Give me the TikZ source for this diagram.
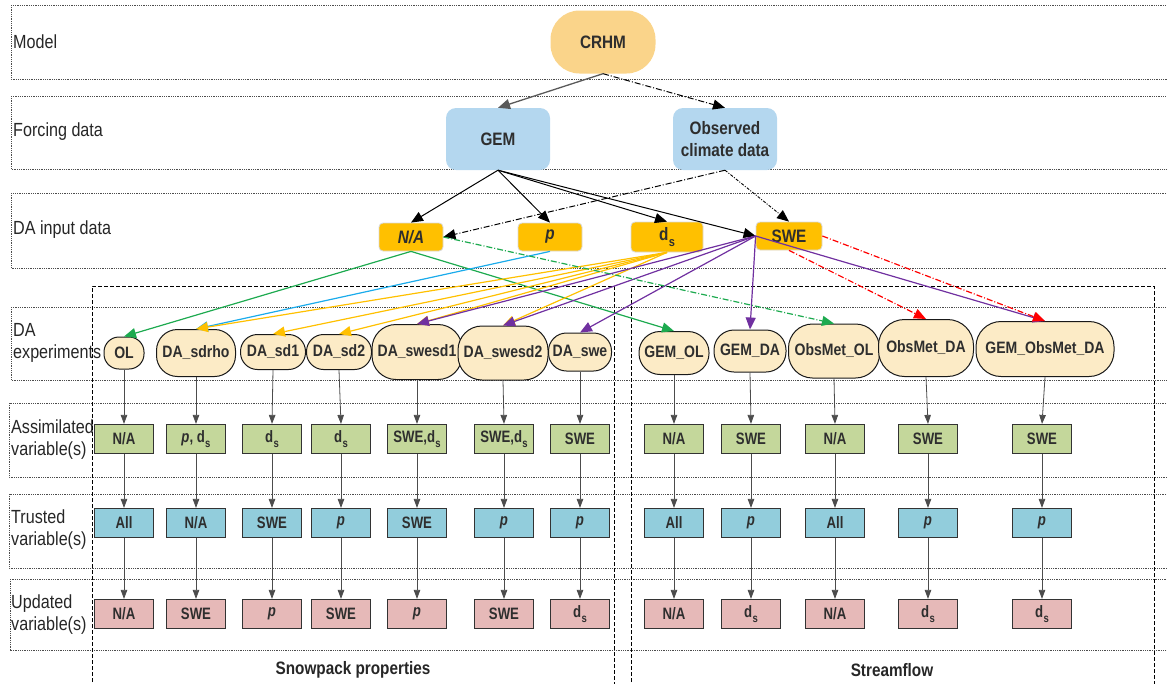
\documentclass[tikz,border=0pt]{standalone}
\usepackage{fontspec}
\setmainfont{Liberation Sans}[FakeStretch=0.85]
\newfontfamily\boxfont{Liberation Sans}[FakeStretch=0.8]
\usetikzlibrary{arrows.meta}
\definecolor{crhmfill}{HTML}{FAD48A}
\definecolor{forcfill}{HTML}{B4D7EF}
\definecolor{inpfill}{HTML}{FFC000}
\definecolor{expfill}{HTML}{FCEBC6}
\definecolor{asmfill}{HTML}{C4D79B}
\definecolor{trsfill}{HTML}{92CDDC}
\definecolor{updfill}{HTML}{E6B9B8}
\definecolor{txt}{HTML}{2E2E2E}
\definecolor{egreen}{HTML}{1DAA4F}
\definecolor{eblue}{HTML}{1AABEB}
\definecolor{eorange}{HTML}{FFC000}
\definecolor{epurple}{HTML}{7030A0}
\definecolor{ered}{HTML}{FF0000}
% snow depth symbol d with subscript s
\newcommand\dsv{d\kern0.3pt\raisebox{-0.6ex}{\scalebox{0.72}{s}}}

\begin{document}
\begin{tikzpicture}[x=1pt,y=-1pt,
  band/.style={draw=black!70, line width=0.9pt, dash pattern=on 0.9pt off 0.9pt},
  grp/.style={draw=black, line width=0.9pt, dash pattern=on 4pt off 2pt},
  rowlab/.style={anchor=west, inner sep=0pt, align=left, text=black!85,
    font=\fontsize{19}{22}\selectfont},
  grplab/.style={inner sep=0pt, text=black!85, font=\bfseries\fontsize{18}{21}\selectfont},
  topbox/.style={inner sep=0pt, text=txt, align=center,
    font=\bfseries\fontsize{18}{22}\selectfont},
  inbox/.style={inner sep=0pt, fill=inpfill, draw=black!15, line width=0.8pt,
    rounded corners=4pt, minimum height=28pt, text=txt,
    font=\bfseries\fontsize{18}{21}\selectfont},
  expbox/.style={inner sep=0pt, fill=expfill, draw=black!90, line width=1pt,
    text=txt, font=\bfseries\fontsize{16.5}{19}\selectfont},
  varbox/.style={inner sep=0pt, draw=black!80, line width=1.2pt,
    minimum width=59pt, minimum height=29pt, text=txt,
    font=\boxfont\bfseries\fontsize{16.5}{19}\selectfont},
  asm/.style={varbox, fill=asmfill},
  trs/.style={varbox, fill=trsfill},
  upd/.style={varbox, fill=updfill},
  bigtip/.style={-{Triangle[length=12pt,width=10pt]}},
  blk/.style={bigtip, draw=black, line width=1pt},
  dashdot/.style={bigtip, draw=black, line width=1pt,
    dash pattern=on 6pt off 2pt on 1pt off 2pt},
  fine/.style={bigtip, draw=black, line width=0.9pt,
    dash pattern=on 3pt off 1.5pt on 1pt off 1.5pt},
  ce/.style={bigtip, line width=1.2pt},
  cdd/.style={bigtip, line width=1.2pt, dash pattern=on 6pt off 2pt on 1pt off 2pt},
  vline/.style={-{Triangle[length=9pt,width=6.5pt]}, draw=black!70, line width=0.8pt}
]
\useasboundingbox (0,0) rectangle (1167,683);

% row bands
\draw[band] (11,5)   rectangle (1175,79);
\draw[band] (11,96)  rectangle (1175,169);
\draw[band] (11,193) rectangle (1175,268);
\draw[band] (11,307) rectangle (1175,380);
\draw[band] (9,403)  rectangle (1175,477);
\draw[band] (9,494)  rectangle (1175,568);
\draw[band] (10,579) rectangle (1175,650);

% row labels
\node[rowlab] (lmodel) at (13,42)  {Model};
\node[rowlab] (lforc)  at (13,132) {Forcing data};
\node[rowlab] (linput) at (13,230) {DA input data};
\node[rowlab] (lexp)   at (13,343) {DA\\experiments};
\node[rowlab] (lasm)   at (11,440) {Assimilated\\variable(s)};
\node[rowlab] (ltrs)   at (11,530) {Trusted\\variable(s)};
\node[rowlab] (lupd)   at (11,615) {Updated\\variable(s)};

% experiment groups
\draw[grp] (92,700) -- (92,286) -- (614,286) -- (614,700);
\draw[grp] (631,700) -- (631,286) -- (1154,286) -- (1154,700);
\node[grplab] (gsnow)   at (353,670) {Snowpack properties};
\node[grplab] (gstream) at (892,670) {Streamflow};

% model and forcing data
\node[topbox, fill=crhmfill, minimum width=105pt, minimum height=63pt,
  rounded corners=29pt] (crhm) at (603,42) {CRHM};
\node[topbox, fill=forcfill, minimum width=104pt, minimum height=62pt,
  rounded corners=10pt] (gem) at (498,139) {GEM};
\node[topbox, fill=forcfill, minimum width=104pt, minimum height=62pt,
  rounded corners=10pt] (obs) at (725,139) {Observed\\climate data};

% DA input data
\node[inbox, minimum width=64pt] (inna)  at (411,237) {\itshape N/A};
\node[inbox, minimum width=64pt] (inp)   at (550,237) {\itshape p};
\node[inbox, minimum width=72pt, minimum height=30pt] (inds) at (667,237) {\dsv};
\node[inbox, minimum width=66pt] (inswe) at (789,236) {SWE};

% DA experiments
\node[expbox, minimum width=40pt, minimum height=32pt, rounded corners=15pt] (xol)      at (124,353) {OL};
\node[expbox, minimum width=79pt, minimum height=47pt, rounded corners=21pt] (xsdrho)   at (196,353) {DA\_sdrho};
\node[expbox, minimum width=65pt, minimum height=35pt, rounded corners=17pt] (xsdone)   at (273,352) {DA\_sd1};
\node[expbox, minimum width=65pt, minimum height=35pt, rounded corners=17pt] (xsdtwo)   at (339,352) {DA\_sd2};
\node[expbox, minimum width=90pt, minimum height=55pt, rounded corners=24pt] (xswesdone) at (417,352) {DA\_swesd1};
\node[expbox, minimum width=90pt, minimum height=54pt, rounded corners=24pt] (xswesdtwo) at (503,353) {DA\_swesd2};
\node[expbox, minimum width=63pt, minimum height=38pt, rounded corners=18pt] (xswe)     at (580,352) {DA\_swe};
\node[expbox, minimum width=70pt, minimum height=43pt, rounded corners=21pt] (xgemol)   at (674,353) {GEM\_OL};
\node[expbox, minimum width=72pt, minimum height=42pt, rounded corners=20pt] (xgemda)   at (750,351) {GEM\_DA};
\node[expbox, minimum width=91pt, minimum height=54pt, rounded corners=24pt] (xobsol)   at (834,351) {ObsMet\_OL};
\node[expbox, minimum width=95pt, minimum height=57pt, rounded corners=26pt] (xobsda)   at (926,348) {ObsMet\_DA};
\node[expbox, minimum width=138pt, minimum height=55pt, rounded corners=25pt] (xgemobs) at (1045,349) {GEM\_ObsMet\_DA};

% assimilated, trusted and updated variables per experiment
\foreach \e/\x/\va/\vt/\vu in {
  xol/124/{N/A}/All/{N/A},
  xsdrho/196/{\textit{p}, \dsv}/{N/A}/SWE,
  xsdone/272/\dsv/SWE/\textit{p},
  xsdtwo/341/\dsv/\textit{p}/SWE,
  xswesdone/417/{SWE,\dsv}/SWE/\textit{p},
  xswesdtwo/504/{SWE,\dsv}/\textit{p}/SWE,
  xswe/580/SWE/\textit{p}/\dsv,
  xgemol/674/{N/A}/All/{N/A},
  xgemda/751/SWE/\textit{p}/\dsv,
  xobsol/835/{N/A}/All/{N/A},
  xobsda/928/SWE/\textit{p}/\dsv,
  xgemobs/1042/SWE/\textit{p}/\dsv}
{
  \node[asm] (a-\e) at (\x,439) {\va};
  \node[trs] (t-\e) at (\x,523) {\vt};
  \node[upd] (u-\e) at (\x,614) {\vu};
  \draw[vline] (\e.south) -- (a-\e.north);
  \draw[vline] (a-\e.south) -- (t-\e.north);
  \draw[vline] (t-\e.south) -- (u-\e.north);
}

% model to forcing data
\draw[bigtip, draw=black!65, line width=1.3pt] (crhm.south) -- (gem.north);
\draw[dashdot] (crhm.south) -- (obs.north);

% forcing data to DA input data
\draw[blk] (gem.south) -- (inna.north);
\draw[blk] (gem.south) -- (inp.north);
\draw[blk] (gem.south) -- (inds.north);
\draw[blk] (gem.south) -- (inswe.west);
\draw[dashdot] (obs.south) -- (inna.east);
\draw[fine] (obs.south) -- (inswe.north);

% DA input data to experiments
\draw[ce, egreen] (inna.south) -- (xol.north);
\draw[ce, egreen] (inna.south) -- (xgemol.north);
\draw[ce, eblue] (inp.south) -- (xsdrho.north);
\draw[ce, eorange] (inds.south) -- (xsdrho.north);
\draw[ce, eorange] (inds.south) -- (xsdone.north);
\draw[ce, eorange] (inds.south) -- (xsdtwo.north);
\draw[ce, eorange] (inds.south) -- (xswesdone.north);
\draw[ce, eorange] (inds.south) -- (xswesdtwo.north);
\draw[ce, epurple] (inswe.west) -- (xswesdone.north);
\draw[ce, epurple] (inswe.west) -- (xswesdtwo.north);
\draw[ce, epurple] (inswe.west) -- (xswe.north);
\draw[ce, epurple] (inswe.west) -- (xgemda.north);
\draw[ce, epurple] (inswe.west) -- (xgemobs.north);
\draw[cdd, egreen] (inna.east) -- (xobsol.north);
\draw[cdd, ered] (inswe.south) -- (xobsda.north);
\draw[cdd, ered] (inswe.east) -- (xgemobs.north);
\end{tikzpicture}
\end{document}
